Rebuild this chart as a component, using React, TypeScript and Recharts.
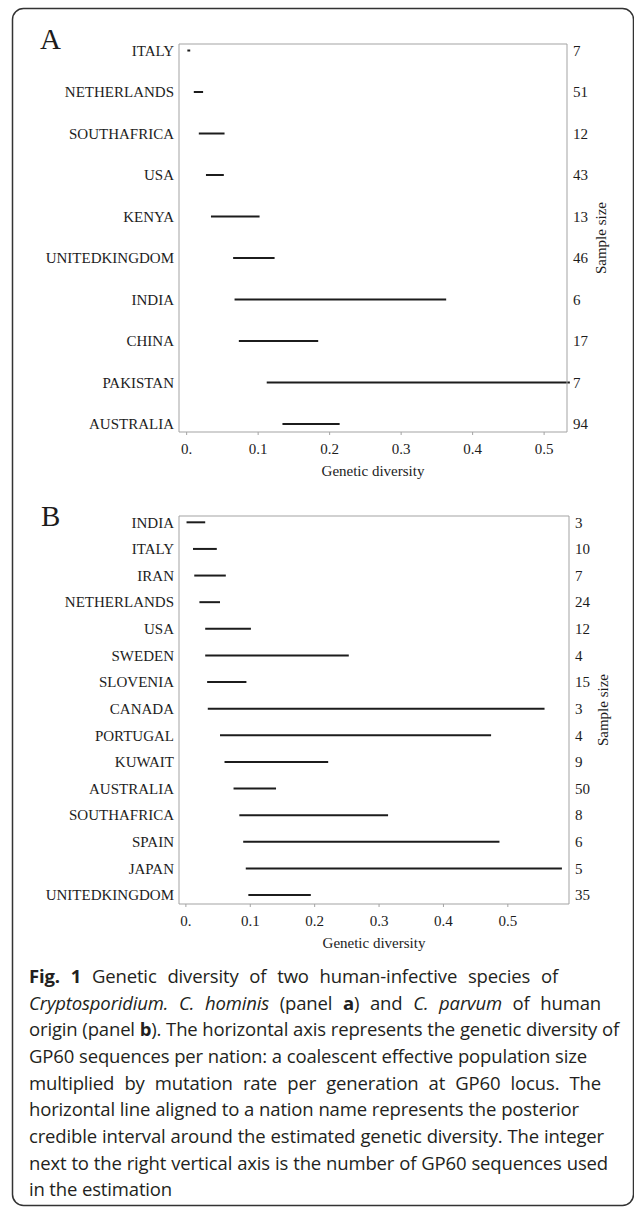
import React from "react";
import { ScatterChart, Scatter, XAxis, YAxis, ErrorBar, ReferenceLine } from "recharts";

// Panel A — C. hominis
const countriesA = ["ITALY", "NETHERLANDS", "SOUTHAFRICA", "USA", "KENYA", "UNITEDKINGDOM", "INDIA", "CHINA", "PAKISTAN", "AUSTRALIA"];
const lowA = [0.001, 0.01, 0.017, 0.027, 0.034, 0.065, 0.067, 0.073, 0.112, 0.134];
const highA = [0.005, 0.023, 0.053, 0.052, 0.102, 0.123, 0.363, 0.184, 0.536, 0.214];
const sizesA = [7, 51, 12, 43, 13, 46, 6, 17, 7, 94];

// Panel B — C. parvum
const countriesB = ["INDIA", "ITALY", "IRAN", "NETHERLANDS", "USA", "SWEDEN", "SLOVENIA", "CANADA", "PORTUGAL", "KUWAIT", "AUSTRALIA", "SOUTHAFRICA", "SPAIN", "JAPAN", "UNITEDKINGDOM"];
const lowB = [0.001, 0.011, 0.013, 0.021, 0.03, 0.03, 0.033, 0.034, 0.053, 0.06, 0.074, 0.083, 0.089, 0.093, 0.097];
const highB = [0.03, 0.048, 0.062, 0.053, 0.101, 0.253, 0.094, 0.557, 0.474, 0.221, 0.14, 0.314, 0.487, 0.584, 0.194];
const sizesB = [3, 10, 7, 24, 12, 4, 15, 3, 4, 9, 50, 8, 6, 5, 35];

const xTicks = [0, 0.1, 0.2, 0.3, 0.4, 0.5];

const serif = '"Liberation Serif", "Times New Roman", serif';
const ink = "#1c1c1c";
const boxGray = "#a3a3a3";

const noDot = () => <g />;

function Panel({
  countries,
  low,
  high,
  sizes,
  xDomain,
  yDomain,
  marginRight,
}: {
  countries: string[];
  low: number[];
  high: number[];
  sizes: number[];
  xDomain: [number, number];
  yDomain: [number, number];
  marginRight: number;
}) {
  const rows = countries.map((name, i) => {
    const mid = (low[i] + high[i]) / 2;
    return { idx: i, name, mid, err: [mid - low[i], high[i] - mid] };
  });
  const idxTicks = countries.map((_, i) => i);
  const tickStyle = { fontFamily: serif, fontSize: 15, fill: ink };

  return (
    <ScatterChart
      width={634}
      height={480}
      margin={{ top: 44, right: marginRight, bottom: 4, left: 0 }}
    >
      <XAxis
        type="number"
        dataKey="mid"
        domain={xDomain}
        allowDataOverflow
        ticks={xTicks}
        interval={0}
        tickFormatter={(v: number) => (v === 0 ? "0." : String(v))}
        stroke={boxGray}
        tickSize={3}
        tickMargin={8}
        height={44}
        tick={tickStyle}
        label={{
          value: "Genetic diversity",
          position: "insideBottom",
          offset: 0,
          fontFamily: serif,
          fontSize: 15,
          fill: ink,
        }}
      />
      <YAxis
        yAxisId="left"
        type="number"
        dataKey="idx"
        domain={yDomain}
        reversed
        allowDataOverflow
        ticks={idxTicks}
        interval={0}
        tickFormatter={(i: number) => countries[i]}
        width={179}
        stroke={boxGray}
        tickLine={false}
        tickSize={0}
        tickMargin={5}
        tick={tickStyle}
      />
      <YAxis
        yAxisId="right"
        orientation="right"
        type="number"
        dataKey="idx"
        domain={yDomain}
        reversed
        allowDataOverflow
        ticks={idxTicks}
        interval={0}
        tickFormatter={(i: number) => String(sizes[i])}
        width={60}
        stroke={boxGray}
        tickLine={false}
        tickSize={0}
        tickMargin={6}
        tick={{ ...tickStyle, textAnchor: "start" }}
        label={{
          value: "Sample size",
          angle: -90,
          position: "center",
          dx: 4,
          fontFamily: serif,
          fontSize: 15,
          fill: ink,
        }}
      />
      <ReferenceLine yAxisId="left" y={yDomain[0]} stroke={boxGray} />
      <Scatter yAxisId="left" data={rows} shape={noDot} isAnimationActive={false}>
        <ErrorBar
          dataKey="err"
          direction="x"
          width={0}
          stroke={ink}
          strokeWidth={2}
          isAnimationActive={false}
        />
      </Scatter>
      <Scatter yAxisId="right" data={rows} shape={noDot} isAnimationActive={false} />
    </ScatterChart>
  );
}

const captionFont = '"Open Sans", "Noto Sans", sans-serif';

// each caption line with the x where it ends in the figure
const captionLines: { parts: React.ReactNode; end: number }[] = [
  { parts: <><b>Fig. 1</b> Genetic diversity of two human-infective species of</>, end: 558 },
  { parts: <><i>Cryptosporidium. C. hominis</i> (panel <b>a</b>) and <i>C. parvum</i> of human</>, end: 601 },
  { parts: <>origin (panel <b>b</b>). The horizontal axis represents the genetic diversity of</>, end: 619 },
  { parts: <>GP60 sequences per nation: a coalescent effective population size</>, end: 587 },
  { parts: <>multiplied by mutation rate per generation at GP60 locus. The</>, end: 601 },
  { parts: <>horizontal line aligned to a nation name represents the posterior</>, end: 579 },
  { parts: <>credible interval around the estimated genetic diversity. The integer</>, end: 604 },
  { parts: <>next to the right vertical axis is the number of GP60 sequences used</>, end: 608 },
  { parts: <>in the estimation</>, end: 0 },
];

export default function App() {
  return (
    <div
      style={{
        position: "absolute",
        left: 0,
        top: 0,
        width: 634,
        height: 1208,
        background: "#fff",
        overflow: "hidden",
      }}
    >
      <svg style={{ position: "absolute", left: 0, top: 0 }} width={634} height={1208}>
        <rect x={12.5} y={8.5} width={621} height={1197} rx={11} fill="none" stroke="#333" strokeWidth={1.5} />
        <text x={40} y={49} fontFamily={serif} fontSize={29} fill={ink}>A</text>
        <text x={41} y={526} fontFamily={serif} fontSize={29} fill={ink}>B</text>
      </svg>
      <div style={{ position: "absolute", left: 0, top: 0 }}>
        <Panel
          countries={countriesA}
          low={lowA}
          high={highA}
          sizes={sizesA}
          xDomain={[-0.0107, 0.532]}
          yDomain={[-0.157, 9.193]}
          marginRight={7}
        />
      </div>
      <div style={{ position: "absolute", left: 0, top: 472 }}>
        <Panel
          countries={countriesB}
          low={lowB}
          high={highB}
          sizes={sizesB}
          xDomain={[-0.0107, 0.595]}
          yDomain={[-0.237, 14.338]}
          marginRight={5}
        />
      </div>
      <div
        style={{
          position: "absolute",
          left: 29,
          top: 963,
          fontFamily: captionFont,
          fontSize: 18.5,
          lineHeight: "26.67px",
          color: "#231f20",
          letterSpacing: -0.15,
        }}
      >
        {captionLines.map((l, i) => (
          <div
            key={i}
            style={{
              width: l.end ? l.end - 29 : 590,
              whiteSpace: "nowrap",
              textAlign: l.end ? "justify" : "left",
              textAlignLast: l.end ? "justify" : "left",
            }}
          >
            {l.parts}
          </div>
        ))}
      </div>
    </div>
  );
}
